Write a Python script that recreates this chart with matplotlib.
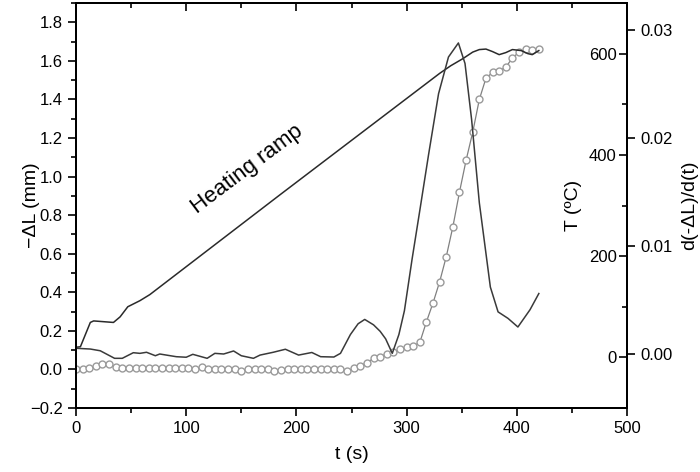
import matplotlib
matplotlib.use('Agg')
import matplotlib.pyplot as plt
from matplotlib.ticker import MultipleLocator, FixedLocator

plt.rcParams['font.family'] = ['Liberation Sans', 'DejaVu Sans']

# -dL (mm), sampled every 6 s
t_shrink = list(range(0, 421, 6))
shrink = [0.0, 0.0, 0.008, 0.018, 0.028, 0.026, 0.012, 0.005, 0.005, 0.005,
          0.005, 0.005, 0.005, 0.005, 0.005, 0.005, 0.005, 0.005, 0.0, 0.012,
          0.002, 0.002, 0.0, 0.0, 0.0, -0.008, 0.003, 0.003, 0.003, 0.0,
          -0.008, -0.005, 0.002, 0.002, 0.002, 0.002, 0.002, 0.002, 0.002, 0.002,
          0.0, -0.008, 0.005, 0.018, 0.035, 0.057, 0.066, 0.08, 0.092, 0.104,
          0.114, 0.121, 0.14, 0.247, 0.345, 0.455, 0.585, 0.74, 0.92, 1.085,
          1.23, 1.40, 1.51, 1.54, 1.55, 1.566, 1.616, 1.644, 1.66, 1.656, 1.66]

# heating ramp T (C)
t_ramp = [0, 4, 13, 16, 34, 40, 47, 58, 67, 185, 330, 340, 351, 360, 366,
          372, 378, 384, 390, 396, 404, 410, 414, 420]
temp = [20, 21, 69, 72, 69, 80, 100, 112, 124, 321, 561, 576, 590, 603, 608,
        609, 604, 598, 602, 608, 606, 600, 598, 606]

# derivative d(-dL)/dt
t_rate = [0, 13, 22, 35, 42, 52, 58, 64, 72, 76, 91, 100, 106, 119, 126, 134,
          143, 150, 161, 167, 179, 190, 202, 214, 222, 234, 240, 249, 256, 262,
          270, 276, 281, 287, 293, 298, 305, 312, 320, 329, 338, 347, 353, 359,
          366, 376, 383, 392, 401, 412, 420]
rate = [0.00053, 0.00046, 0.0003, -0.0004, -0.0004, 0.00012, 0.00006, 0.00016,
        -0.00016, 0.0, -0.00025, -0.0003, -0.00003, -0.0004, 0.00006, 0.0,
        0.00028, -0.00016, -0.0004, -0.0001, 0.00016, 0.00044, -0.0001, 0.00014,
        -0.00025, -0.00028, 0.00006, 0.0018, 0.0028, 0.0032, 0.0027, 0.0021,
        0.0014, 0.00006, 0.0018, 0.0040, 0.0088, 0.0133, 0.0185, 0.0241, 0.0275,
        0.0288, 0.0269, 0.0217, 0.014, 0.0062, 0.0039, 0.0033, 0.0025, 0.0041,
        0.0056]

fig = plt.figure(figsize=(7, 4.72), dpi=100)
ax = fig.add_axes([76 / 700, 1 - 408 / 472, 551 / 700, 405 / 472])
ax2 = ax.twinx()
ax3 = ax.twinx()

ax.plot(t_shrink, shrink, color='#808080', lw=0.9, marker='o', ms=5,
        mfc='white', mec='#9a9a9a', mew=1.0, zorder=3)
ax2.plot(t_ramp, temp, color='#2a2a2a', lw=1.1)
ax3.plot(t_rate, rate, color='#3a3a3a', lw=1.1)

ax.set_xlim(0, 500)
ax.set_ylim(-0.2, 1.9)
ax2.set_ylim(-100, 700)
ax3.set_ylim(-0.005, 0.0325)

ax.xaxis.set_major_locator(MultipleLocator(100))
ax.xaxis.set_minor_locator(MultipleLocator(50))
ax.yaxis.set_major_locator(FixedLocator([-0.2, 0.0, 0.2, 0.4, 0.6, 0.8, 1.0, 1.2, 1.4, 1.6, 1.8]))
ax.yaxis.set_minor_locator(MultipleLocator(0.1))
ax.yaxis.set_major_formatter(lambda v, p: f'{v:.1f}'.replace('-', '\u2212'))
ax.tick_params(which='major', direction='out', length=6, width=1.2, labelsize=12)
ax.tick_params(which='minor', direction='out', length=3.5, width=1.2)

top = ax.secondary_xaxis('top')
top.xaxis.set_major_locator(MultipleLocator(100))
top.xaxis.set_minor_locator(MultipleLocator(50))
top.tick_params(which='major', direction='in', length=6, width=1.2, labeltop=False)
top.tick_params(which='minor', direction='in', length=3.5, width=1.2)

ax2.set_yticks([0, 200, 400, 600])
ax2.yaxis.set_minor_locator(FixedLocator([100, 300, 500]))
ax2.tick_params(which='major', direction='in', length=6, width=1.2, labelsize=12, pad=-7.5)
ax2.tick_params(which='minor', direction='in', length=3.5, width=1.2)
for tk in ax2.yaxis.get_major_ticks():
    tk.label2.set_horizontalalignment('right')

ax3.set_yticks([0.0, 0.01, 0.02, 0.03])
ax3.yaxis.set_major_formatter(lambda v, p: f'{v:.2f}')
ax3.tick_params(direction='out', length=6, width=1.2, labelsize=12)

for a in (ax, ax2, ax3):
    for s in a.spines.values():
        s.set_linewidth(1.3)
top.spines['top'].set_linewidth(1.3)

ax.set_xlabel('t (s)', fontsize=14)
ax.xaxis.set_label_coords(0.5, -0.095)
ax.set_ylabel('\u2212\u0394L (mm)', fontsize=14)
ax.yaxis.set_label_coords(-0.065, 0.5)
ax2.set_ylabel('T (\u00baC)', fontsize=14)
ax2.yaxis.set_label_coords(0.888, 0.5)
ax3.set_ylabel('d(-\u0394L)/d(t)', fontsize=14)
ax3.yaxis.set_label_coords(1.098, 0.5)

ax.text(0.31, 0.59, 'Heating ramp', transform=ax.transAxes, fontsize=16,
        rotation=37, ha='center', va='center', rotation_mode='anchor')

fig.savefig('out.png', dpi=100)
